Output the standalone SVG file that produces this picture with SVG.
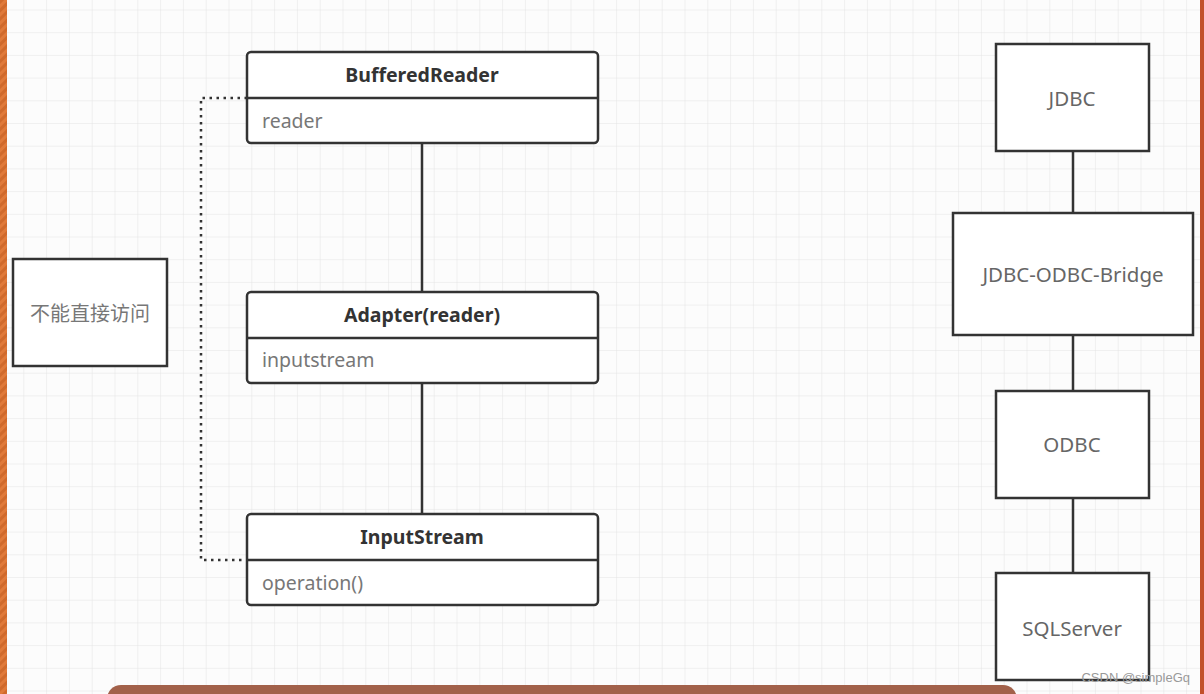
<svg xmlns="http://www.w3.org/2000/svg" width="1204" height="694" viewBox="0 0 1204 694">
<defs>
<pattern id="grid" width="22.8" height="22.7" patternUnits="userSpaceOnUse" x="0.5" y="9.5">
<path d="M0 0H22.8M0 0V22.7" fill="none" stroke="#e3e3e3" stroke-width="1"/>
</pattern>
<pattern id="stripe" width="6" height="6" patternUnits="userSpaceOnUse" patternTransform="rotate(45)">
<rect width="6" height="6" fill="#e07a3a"/>
<rect width="3" height="6" fill="#d06a2c"/>
</pattern>
</defs>
<style>
.box{fill:#fff;stroke:#333;stroke-width:2.5}
.div{stroke:#333;stroke-width:2.5}
.con{stroke:#333;stroke-width:2.5;fill:none}
.dot{stroke:#333;stroke-width:2.5;fill:none;stroke-dasharray:2.5 4.5}
.hd{font-family:"Noto Sans","Open Sans",sans-serif;font-size:19.5px;font-weight:bold;fill:#333;text-anchor:middle}
.at{font-family:"Noto Sans","Open Sans",sans-serif;font-size:19.5px;fill:#777}
.lb{font-family:"Noto Sans","Open Sans",sans-serif;font-size:20.5px;fill:#666;text-anchor:middle;dominant-baseline:central}
.cn{font-family:"Noto Sans CJK SC",sans-serif;font-size:20px;fill:#777;text-anchor:middle;dominant-baseline:central}
</style>
<rect width="1204" height="694" fill="#fcfcfc"/>
<rect width="1204" height="694" fill="url(#grid)"/>
<rect x="0" y="0" width="7" height="694" fill="url(#stripe)"/>
<rect x="1200" y="0" width="4" height="694" fill="#c2512a"/>
<rect x="107" y="685" width="910" height="30" rx="14" fill="#a2614a"/>

<g id="connectors">
<path class="con" d="M422 143V292"/>
<path class="con" d="M422 383V514"/>
<path class="dot" d="M247 98H201V560H247"/>
<path class="con" d="M1073 151V213"/>
<path class="con" d="M1073 335V391"/>
<path class="con" d="M1073 498V573"/>
</g>

<g id="bufferedreader">
<rect class="box" x="247" y="52" width="351" height="91" rx="4"/>
<line class="div" x1="247" y1="98" x2="598" y2="98"/>
<text class="hd" x="422" y="82">BufferedReader</text>
<text class="at" x="262" y="128">reader</text>
</g>

<g id="adapter">
<rect class="box" x="247" y="292" width="351" height="91" rx="4"/>
<line class="div" x1="247" y1="338" x2="598" y2="338"/>
<text class="hd" x="422" y="322">Adapter(reader)</text>
<text class="at" x="262" y="367">inputstream</text>
</g>

<g id="inputstream">
<rect class="box" x="247" y="514" width="351" height="91" rx="4"/>
<line class="div" x1="247" y1="560" x2="598" y2="560"/>
<text class="hd" x="422" y="544">InputStream</text>
<text class="at" x="262" y="590">operation()</text>
</g>

<g id="note">
<rect class="box" x="13" y="259" width="154" height="107"/>
<text class="cn" x="90" y="312">不能直接访问</text>
</g>

<g id="jdbc">
<rect class="box" x="996" y="44" width="153" height="107"/>
<text class="lb" x="1072" y="98">JDBC</text>
</g>
<g id="bridge">
<rect class="box" x="953" y="213" width="240" height="122"/>
<text class="lb" x="1073" y="274">JDBC-ODBC-Bridge</text>
</g>
<g id="odbc">
<rect class="box" x="996" y="391" width="153" height="107"/>
<text class="lb" x="1072" y="444">ODBC</text>
</g>
<g id="sqlserver">
<rect class="box" x="996" y="573" width="153" height="107"/>
<text class="lb" x="1072" y="628">SQLServer</text>
</g>

<text x="1190" y="682" font-family="Liberation Sans,sans-serif" font-size="13" fill="#999" text-anchor="end">CSDN @simpleGq</text>
</svg>
